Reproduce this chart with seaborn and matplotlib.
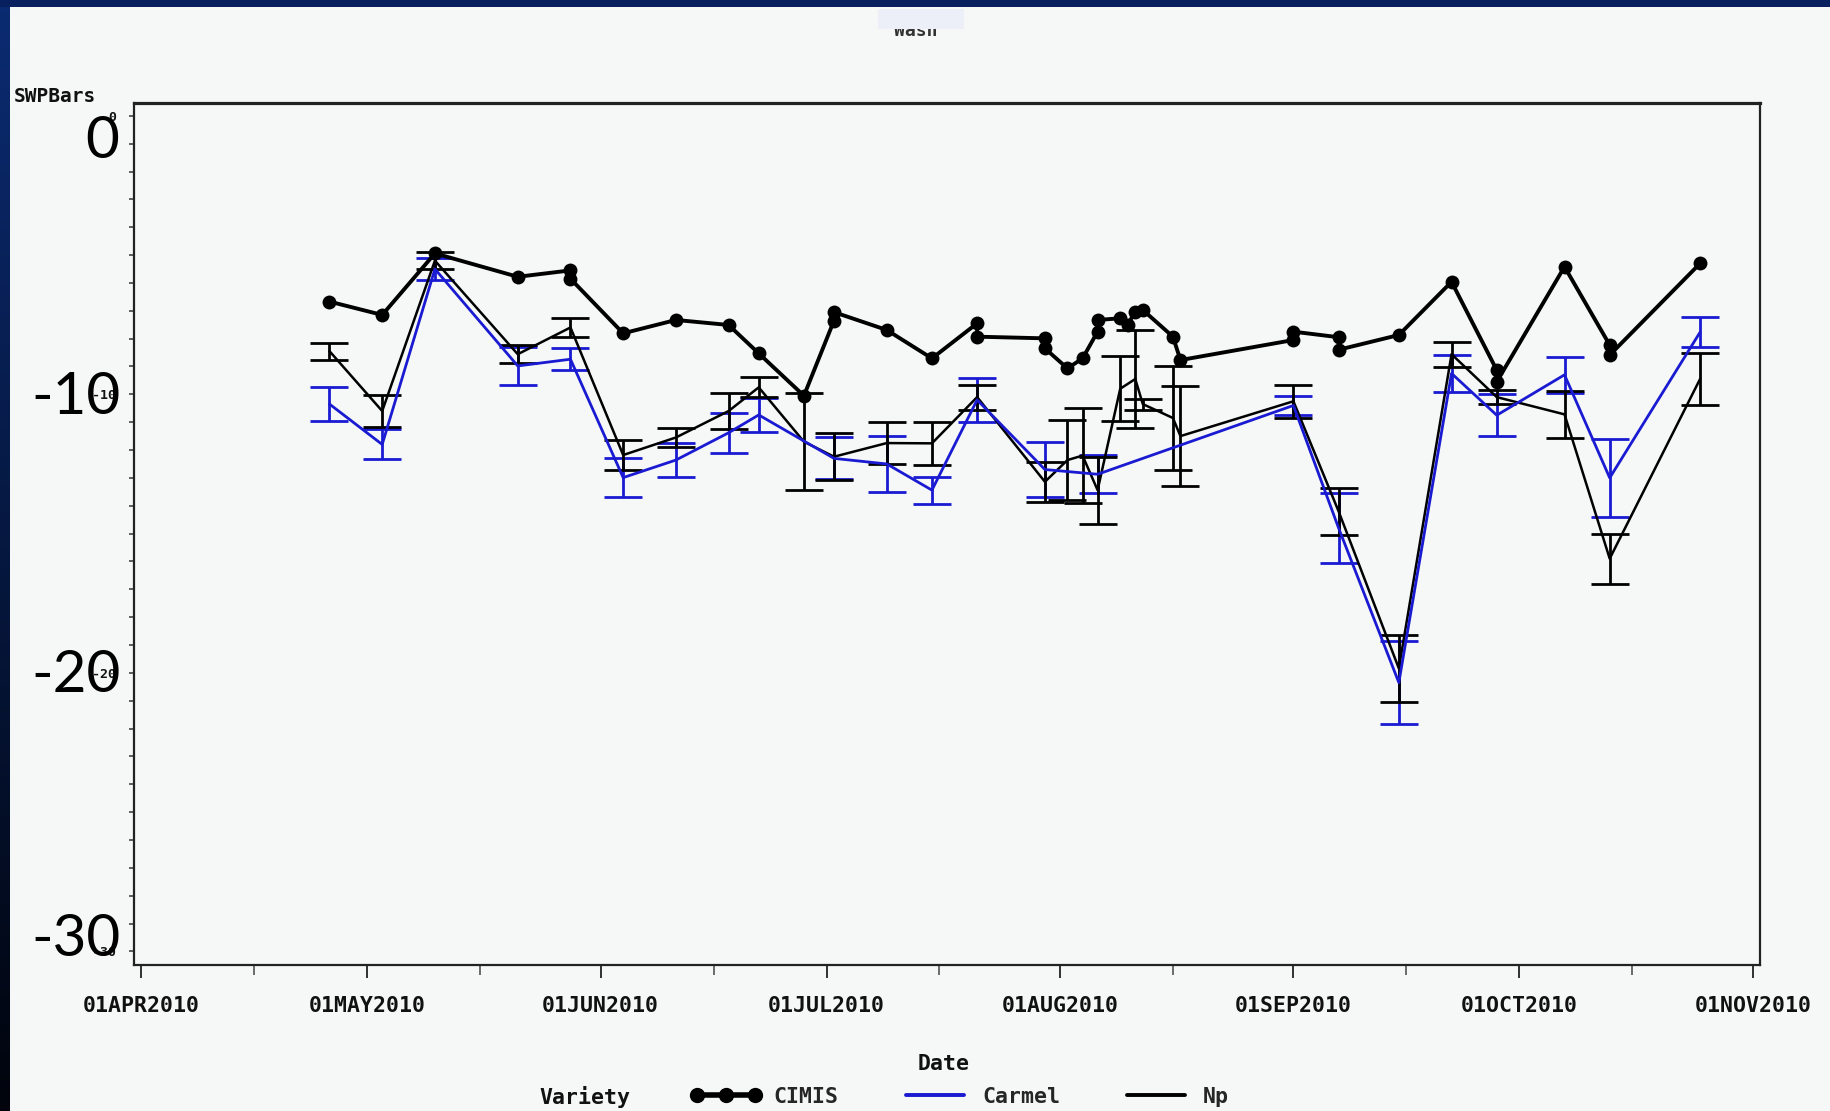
import numpy as np
import pandas as pd
import matplotlib
matplotlib.use("Agg")
import matplotlib.pyplot as plt
import matplotlib.dates as mdates
from matplotlib.ticker import MultipleLocator, FixedLocator, FuncFormatter
from matplotlib.lines import Line2D
from matplotlib.patches import Rectangle
from matplotlib.colors import LinearSegmentedColormap
import seaborn as sns

# ---------------------------------------------------------------- data
# CIMIS reference readings (some dates carry two readings)
cimis_dates = ["2010-04-26", "2010-05-03", "2010-05-10", "2010-05-21",
               "2010-05-28", "2010-05-28", "2010-06-04", "2010-06-11",
               "2010-06-18", "2010-06-22", "2010-06-28", "2010-07-02",
               "2010-07-02", "2010-07-09", "2010-07-15", "2010-07-21",
               "2010-07-21", "2010-07-30", "2010-07-30", "2010-08-02",
               "2010-08-04", "2010-08-06", "2010-08-06", "2010-08-09",
               "2010-08-10", "2010-08-11", "2010-08-12", "2010-08-16",
               "2010-08-17", "2010-09-01", "2010-09-01", "2010-09-07",
               "2010-09-07", "2010-09-15", "2010-09-22", "2010-09-28",
               "2010-09-28", "2010-10-07", "2010-10-13", "2010-10-13",
               "2010-10-25"]
cimis_swp = [-6.67, -7.15, -4.94, -5.78,
             -5.55, -5.85, -7.81, -7.33,
             -7.51, -8.53, -10.05, -7.35,
             -7.05, -7.69, -8.71, -7.45,
             -7.93, -7.99, -8.35, -9.07,
             -8.71, -7.75, -7.33, -7.27,
             -7.50, -7.03, -6.97, -7.93,
             -8.77, -8.05, -7.75, -7.95,
             -8.40, -7.87, -5.96, -9.13,
             -9.55, -5.42, -8.23, -8.59,
             -5.30]

# Carmel: mean stem water potential and standard error
carmel_dates = ["2010-04-26", "2010-05-03", "2010-05-10", "2010-05-21",
                "2010-05-28", "2010-06-04", "2010-06-11", "2010-06-18",
                "2010-06-22", "2010-07-02", "2010-07-09", "2010-07-15",
                "2010-07-21", "2010-07-30", "2010-08-06", "2010-09-01",
                "2010-09-07", "2010-09-15", "2010-09-22", "2010-09-28",
                "2010-10-07", "2010-10-13", "2010-10-25"]
carmel_swp = [-10.35, -11.80, -5.50, -8.98,
              -8.74, -12.99, -12.36, -11.38,
              -10.74, -12.30, -12.50, -13.44,
              -10.20, -12.70, -12.87, -10.40,
              -14.80, -20.35, -9.25, -10.75,
              -9.30, -13.00, -7.77]
carmel_se = [0.60, 0.54, 0.39, 0.69,
             0.39, 0.69, 0.60, 0.72,
             0.60, 0.75, 1.02, 0.48,
             0.80, 1.00, 0.69, 0.35,
             1.25, 1.50, 0.66, 0.75,
             0.65, 1.40, 0.53]

# Np: mean stem water potential and standard error
np_dates = ["2010-04-26", "2010-05-03", "2010-05-10", "2010-05-21",
            "2010-05-28", "2010-06-04", "2010-06-11", "2010-06-18",
            "2010-06-22", "2010-06-28", "2010-07-02", "2010-07-09",
            "2010-07-15", "2010-07-21", "2010-07-30", "2010-08-02",
            "2010-08-04", "2010-08-06", "2010-08-09", "2010-08-11",
            "2010-08-12", "2010-08-16", "2010-08-17", "2010-09-01",
            "2010-09-07", "2010-09-15", "2010-09-22", "2010-09-28",
            "2010-10-07", "2010-10-13", "2010-10-25"]
np_swp = [-8.45, -10.60, -5.20, -8.56,
          -7.60, -12.18, -11.55, -10.60,
          -9.75, -11.70, -12.24, -11.75,
          -11.76, -10.10, -13.14, -12.36,
          -12.20, -13.44, -9.80, -9.45,
          -10.35, -10.85, -11.50, -10.25,
          -14.20, -19.84, -8.56, -10.10,
          -10.72, -15.90, -9.45]
np_se = [0.30, 0.57, 0.30, 0.33,
         0.33, 0.54, 0.33, 0.63,
         0.36, 1.75, 0.84, 0.75,
         0.78, 0.45, 0.72, 1.44,
         1.70, 1.20, 1.17, 1.77,
         0.20, 1.88, 1.80, 0.60,
         0.85, 1.20, 0.45, 0.25,
         0.85, 0.90, 0.93]

month_ticks = ["2010-04-01", "2010-05-01", "2010-06-01", "2010-07-01",
               "2010-08-01", "2010-09-01", "2010-10-01", "2010-11-01"]
swp_ticks = [0, -10, -20, -30]
swp_tick_text = ["0", "-10", "-20", "-30"]
variety_names = ["CIMIS", "Carmel", "Np"]

# ---------------------------------------------------------------- style
W, H = 1830, 1111
PANEL = "#f5f8f6"
BLUE = "#1a1ad2"
MONO = ["DejaVu Sans Mono", "DejaVu Sans"]

sns.set_theme(style="white")
plt.rcParams["font.family"] = MONO
plt.rcParams["font.weight"] = "bold"


def fx(px):
    return px / W


def fy(py):
    return 1 - py / H


fig = plt.figure(figsize=(W / 100, H / 100), dpi=100)
fig.patch.set_facecolor(PANEL)

# dark slide border: gradient strip on the left and a thin band on top
strip = fig.add_axes([0, 0, fx(10), 1], zorder=-5)
cmap = LinearSegmentedColormap.from_list("slide", ["#0b2b72", "#01040c"])
strip.imshow(np.linspace(0, 1, 256)[:, None], aspect="auto", cmap=cmap,
             extent=[0, 1, 0, 1])
strip.axis("off")
fig.add_artist(Rectangle((0, fy(7)), 1, 7 / H, transform=fig.transFigure,
                         facecolor="#08205e", edgecolor="none", zorder=-4))

ax = fig.add_axes([fx(134), fy(965), fx(1760 - 134), (965 - 103) / H])
ax.set_facecolor(PANEL)

cimis_df = pd.DataFrame({"Date": pd.to_datetime(cimis_dates),
                         "SWPBars": cimis_swp})
carmel_df = pd.DataFrame({"Date": pd.to_datetime(carmel_dates),
                          "SWPBars": carmel_swp, "SE": carmel_se})
np_df = pd.DataFrame({"Date": pd.to_datetime(np_dates),
                      "SWPBars": np_swp, "SE": np_se})

# error bars first, lines on top
for df, col in [(carmel_df, BLUE), (np_df, "black")]:
    ax.errorbar(df["Date"].to_numpy(), df["SWPBars"], yerr=df["SE"],
                fmt="none", ecolor=col, elinewidth=2.0, capsize=14,
                capthick=2.0, zorder=2)

sns.lineplot(data=np_df, x="Date", y="SWPBars", color="black", lw=1.8,
             estimator=None, sort=False, legend=False, ax=ax, zorder=3)
sns.lineplot(data=carmel_df, x="Date", y="SWPBars", color=BLUE, lw=2.0,
             estimator=None, sort=False, legend=False, ax=ax, zorder=4)
sns.lineplot(data=cimis_df, x="Date", y="SWPBars", color="black", lw=2.8,
             marker="o", markersize=10, markeredgewidth=0,
             estimator=None, sort=False, legend=False, ax=ax, zorder=5)

# axes ranges and ticks
ax.set_xlim(pd.Timestamp("2010-03-31 01:00"), pd.Timestamp("2010-11-01 23:00"))
ax.set_ylim(-30.49, 0.46)
ax.xaxis.set_major_locator(FixedLocator(mdates.date2num(pd.to_datetime(month_ticks))))
ax.xaxis.set_major_formatter(FuncFormatter(
    lambda v, pos: mdates.num2date(v).strftime("%d%b%Y").upper()))
ax.xaxis.set_minor_locator(mdates.MonthLocator(bymonthday=16))
ax.yaxis.set_major_locator(FixedLocator(swp_ticks))
ax.yaxis.set_major_formatter(FuncFormatter(lambda v, pos: f"{v:.0f}"))
ax.yaxis.set_minor_locator(MultipleLocator(1))

ax.tick_params(axis="x", which="major", direction="out", length=9.5,
               width=1.3, color="#222", labelsize=15.5, pad=13,
               bottom=True)
ax.tick_params(axis="x", which="minor", direction="out", length=7,
               width=1.1, color="#444", bottom=True)
ax.tick_params(axis="y", which="both", direction="out", length=3.8,
               width=1.1, color="#333", labelsize=9.5, pad=9, left=True)
for lab in ax.get_xticklabels() + ax.get_yticklabels():
    lab.set_fontweight("bold")
    lab.set_color("#111")

for sp in ax.spines.values():
    sp.set_color("#222")
    sp.set_linewidth(1.6)
ax.spines["top"].set_linewidth(2.3)

ax.set_ylabel("")
ax.set_xlabel("Date", fontsize=15.5, fontweight="bold", color="#111")
ax.xaxis.set_label_coords((944 - 134) / 1626, -(1054 - 965) / 862)

# vertical axis title at the upper left
fig.text(fx(14), fy(96), "SWPBars", fontsize=14, fontweight="bold",
         color="#111", ha="left", va="center")

# large annotation numbers beside the vertical axis
big = dict(family=["Lato", "DejaVu Sans"], fontsize=42, fontweight="normal",
           color="black", ha="right", va="center", zorder=6)
for txt, (px, py) in zip(swp_tick_text,
                         [(119, 142), (121, 397), (121, 676), (121, 940)]):
    fig.text(fx(px), fy(py), txt, **big)

# chart title, partly covered by a pasted box
fig.text(fx(916), fy(31), "Wash", fontsize=13, fontweight="bold",
         color="#333", ha="center", va="center", zorder=3)
fig.add_artist(Rectangle((fx(878), fy(29)), 86 / W, 20 / H,
                         transform=fig.transFigure, facecolor="#eceff7",
                         edgecolor="none", zorder=4))

# legend
handles = [Line2D([], [], color="black", lw=4, marker="o", markersize=10),
           Line2D([], [], color=BLUE, lw=2.8),
           Line2D([], [], color="black", lw=2.8)]
fig.text(fx(585), fy(1097), "Variety", fontsize=15.5, fontweight="bold",
         color="#111", ha="center", va="center")
fig.legend(handles, variety_names, loc="center",
           bbox_to_anchor=(fx(960), fy(1097)), ncol=3, frameon=False,
           numpoints=3, handlelength=3.3, handletextpad=0.55,
           columnspacing=2.8, prop={"family": MONO, "weight": "bold",
                                    "size": 15.5})

fig.savefig("out.png", dpi=100, facecolor=PANEL)
